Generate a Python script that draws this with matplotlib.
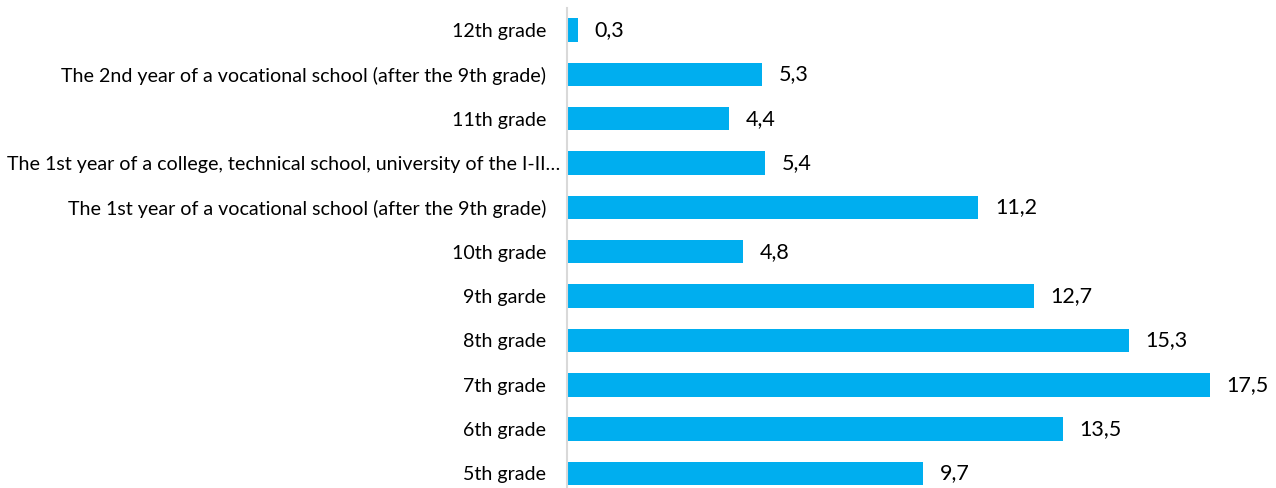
import matplotlib
matplotlib.use("Agg")
import matplotlib.pyplot as plt
import matplotlib.transforms as mtransforms
import numpy as np

plt.rcParams['font.family'] = ['Lato', 'DejaVu Sans']

categories = [
    "12th grade",
    "The 2nd year of a vocational school (after the 9th grade)",
    "11th grade",
    "The 1st year of a college, technical school, university of the I-II\u2026",
    "The 1st year of a vocational school (after the 9th grade)",
    "10th grade",
    "9th garde",
    "8th grade",
    "7th grade",
    "6th grade",
    "5th grade",
]
values = [0.3, 5.3, 4.4, 5.4, 11.2, 4.8, 12.7, 15.3, 17.5, 13.5, 9.7]

W, H = 1276, 488
fig = plt.figure(figsize=(W / 100, H / 100), dpi=100)

# axes in pixel terms: zero line at x=567, one category = 44.35 px
step = 44.35
top = 7.8
ax_h = step * len(categories)
ax = fig.add_axes([567 / W, (H - top - ax_h) / H, 698 / W, ax_h / H])

y = np.arange(len(categories))
ax.barh(y, values, height=0.53, color='#00AEEF')
ax.set_ylim(len(categories) - 0.5, -0.5)
ax.set_xlim(0, 19)

for yi, v in zip(y, values):
    ax.annotate(f"{v:.1f}".replace('.', ','), (v, yi), xytext=(12, 0),
                textcoords='offset points', va='center', ha='left',
                fontsize=15.5, color='black')

ax.set_yticks(y)
ax.set_yticklabels(categories, fontsize=14.1, color='black')
ax.tick_params(axis='y', length=0, pad=15)

# the truncated label runs right up to the axis line
shift = mtransforms.ScaledTranslation(0.14, 0, fig.dpi_scale_trans)
for lab in ax.get_yticklabels():
    if lab.get_text().endswith('\u2026'):
        lab.set_transform(lab.get_transform() + shift)

ax.set_xticks([])
for side in ['top', 'right', 'bottom']:
    ax.spines[side].set_visible(False)
ax.spines['left'].set_color('#D9D9D9')
ax.spines['left'].set_linewidth(1.5)

fig.savefig("out.png", dpi=100)
